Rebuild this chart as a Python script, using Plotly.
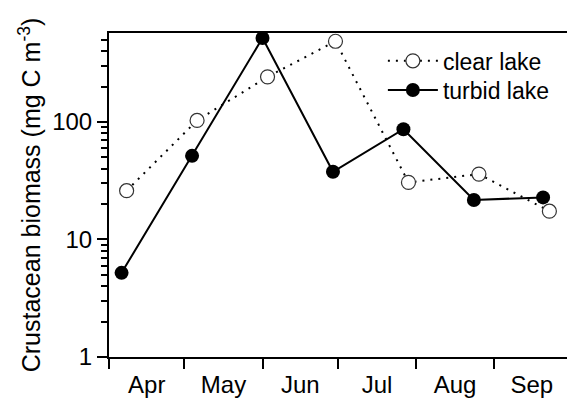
import plotly.graph_objects as go

# Sampling day (days since 1 April) and biomass (mg C m^-3)
clear_day = [7, 35, 63, 90, 119, 147, 175]
clear_biomass = [26, 103, 242, 486, 30.6, 36, 17.4]

turbid_day = [5, 33, 61, 89, 117, 145, 172.5]
turbid_biomass = [5.2, 51.5, 518, 37.7, 86.7, 21.7, 22.8]

month_labels = ["Apr", "May", "Jun", "Jul", "Aug", "Sep"]
month_starts = [0, 30, 61, 91, 122, 153, 183]
month_mids = [(month_starts[i] + month_starts[i + 1]) / 2 for i in range(6)]

y_major = [1, 10, 100]
y_minor = [m * d for d in (1, 10, 100) for m in range(2, 10) if m * d < 600]

font = "Liberation Sans, Arial, sans-serif"

fig = go.Figure()
fig.add_trace(go.Scatter(
    x=clear_day, y=clear_biomass, name="clear lake", mode="lines+markers",
    line=dict(color="black", width=2, dash="2px,6px"),
    marker=dict(symbol="circle", size=14, color="white",
                line=dict(color="#333333", width=1.2)),
    legend="legend",
))
fig.add_trace(go.Scatter(
    x=turbid_day, y=turbid_biomass, name="turbid lake", mode="lines+markers",
    line=dict(color="black", width=2),
    marker=dict(symbol="circle", size=14, color="black"),
    legend="legend2",
))

leg_common = dict(xanchor="left", yanchor="middle", bgcolor="rgba(0,0,0,0)",
                  font=dict(size=23), itemwidth=50)

fig.update_layout(
    width=567, height=402,
    margin=dict(l=109, r=0, t=33, b=45),
    paper_bgcolor="white", plot_bgcolor="white",
    font=dict(family=font, size=24, color="black"),
    showlegend=True,
    legend=dict(x=0.598, y=0.914, **leg_common),
    legend2=dict(x=0.598, y=0.824, **leg_common),
    xaxis=dict(
        range=[0, 182], showgrid=False, zeroline=False,
        showline=True, linecolor="black", linewidth=2, mirror=True,
        tickmode="array", tickvals=month_mids, ticktext=month_labels,
        ticks="outside", ticklen=5, tickcolor="rgba(0,0,0,0)",
        tickfont=dict(size=24),
        minor=dict(tickmode="array", tickvals=month_starts, ticks="outside",
                   ticklen=10, tickwidth=2, tickcolor="black", showgrid=False),
    ),
    yaxis=dict(
        type="log", range=[0, 2.757], showgrid=False, zeroline=False,
        showline=True, linecolor="black", linewidth=2,
        tickmode="array", tickvals=y_major, ticktext=["1", "10", "100"],
        ticks="outside", ticklen=10, tickwidth=2, tickcolor="black",
        tickfont=dict(size=24),
        minor=dict(tickmode="array", tickvals=y_minor, ticks="outside",
                   ticklen=6, tickwidth=1.5, tickcolor="black", showgrid=False),
        title=dict(text="Crustacean biomass (mg C m<sup>-3</sup>)",
                   font=dict(size=25), standoff=4),
    ),
)

fig.write_html("out.html")
